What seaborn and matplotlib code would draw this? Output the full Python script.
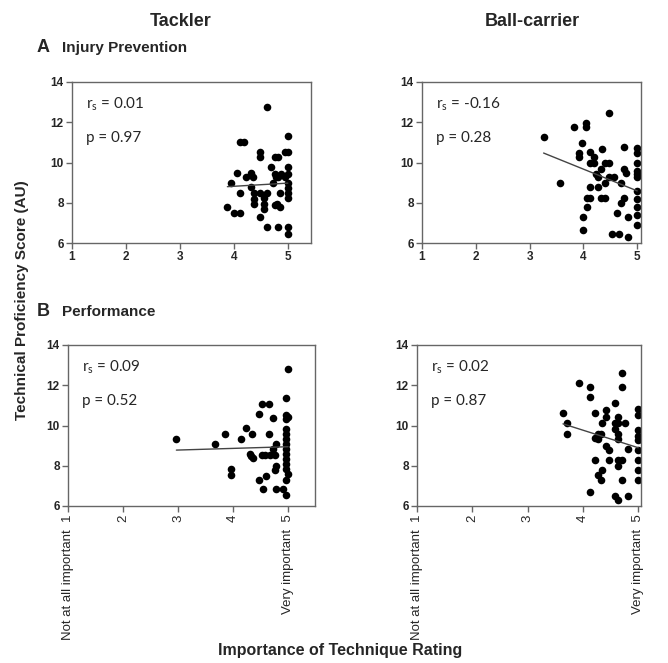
import matplotlib
matplotlib.use("Agg")
import matplotlib.pyplot as plt
import numpy as np
import seaborn as sns

# --- data ---
tackler_inj_x = [4.62, 5.0, 4.12, 4.18, 4.49, 4.49, 4.76, 4.82, 4.94, 5.0, 4.69, 5.0, 4.06, 4.31,
                 4.23, 4.36, 4.76, 4.82, 4.88, 4.94, 5.0, 4.79, 5.0, 3.94, 4.31, 4.73, 5.0, 5.0,
                 5.0, 4.12, 4.37, 4.49, 4.62, 4.86, 4.37, 4.55, 4.37, 4.55, 4.76, 4.86, 4.80, 3.88,
                 4.55, 4.0, 4.12, 4.49, 4.62, 4.81, 5.0, 5.0]
tackler_inj_y = [12.77, 11.3, 11.0, 11.0, 10.5, 10.25, 10.25, 10.25, 10.5, 10.5, 9.76, 9.76, 9.5, 9.5,
                 9.3, 9.26, 9.45, 9.3, 9.45, 9.3, 9.45, 9.26, 9.0, 8.96, 8.76, 8.96, 8.75, 8.5,
                 8.25, 8.46, 8.46, 8.46, 8.46, 8.46, 8.2, 8.24, 7.96, 7.96, 7.9, 7.8, 7.95, 7.8,
                 7.7, 7.47, 7.47, 7.3, 6.8, 6.8, 6.8, 6.44]

carrier_inj_x = [4.48, 3.26, 3.83, 4.05, 4.05, 3.98, 3.91, 3.91, 4.12, 4.2, 4.12, 4.2, 4.34, 4.76,
                 4.4, 4.48, 4.33, 4.76, 4.8, 4.24, 4.27, 4.48, 4.57, 4.41, 4.70, 3.56, 4.12, 4.27,
                 4.06, 4.12, 4.33, 4.41, 4.76, 4.06, 4.70, 4.62, 4.82, 3.99, 3.99, 4.54, 4.67, 4.82,
                 5.0, 5.0, 5.0, 5.0, 5.0, 5.0, 5.0, 5.0, 5.0, 5.0, 5.0]
carrier_inj_y = [12.47, 11.28, 11.78, 11.98, 11.78, 10.98, 10.48, 10.25, 10.5, 10.25, 10.0, 10.0, 10.65, 10.78,
                 10.0, 10.0, 9.7, 9.7, 9.5, 9.45, 9.26, 9.26, 9.26, 8.96, 8.96, 8.96, 8.76, 8.76,
                 8.26, 8.26, 8.26, 8.26, 8.26, 7.77, 7.97, 7.47, 7.3, 7.3, 6.67, 6.47, 6.47, 6.3,
                 10.7, 10.45, 10.0, 9.6, 9.45, 9.3, 8.6, 8.2, 7.8, 7.4, 6.9]

tackler_perf_x = [2.97, 3.67, 3.86, 4.15, 4.23, 4.35, 3.96, 3.96, 4.47, 4.53, 4.65, 4.72, 4.65, 4.97,
                  4.97, 5.0, 4.97, 4.96, 4.96, 4.96, 4.96, 4.96, 4.96, 4.96, 4.96, 4.96, 4.79, 4.73,
                  4.52, 4.58, 4.67, 4.76, 4.33, 4.36, 4.30, 4.78, 4.76, 4.6, 4.47, 4.55, 4.78, 4.91,
                  4.96, 5.0, 4.96, 5.0]
tackler_perf_y = [9.35, 9.07, 9.6, 9.35, 9.88, 9.6, 7.86, 7.53, 10.59, 11.08, 11.08, 10.37, 9.6, 11.38,
                  10.5, 10.4, 10.3, 9.85, 9.6, 9.35, 9.1, 8.85, 8.6, 8.35, 8.1, 7.86, 9.1, 8.85,
                  8.52, 8.52, 8.52, 8.52, 8.5, 8.4, 8.6, 8.0, 7.8, 7.49, 7.29, 6.83, 6.83, 6.83,
                  6.54, 12.8, 7.3, 7.6]

carrier_perf_x = [4.71, 4.71, 3.92, 4.13, 4.13, 3.64, 3.72, 3.72, 4.21, 4.42, 4.42, 4.58, 4.35, 4.64,
                  4.58, 4.64, 4.76, 4.58, 4.64, 4.64, 4.27, 4.33, 4.21, 4.27, 4.42, 4.48, 4.82, 4.21,
                  4.48, 4.64, 4.70, 4.64, 4.35, 4.27, 4.33, 4.70, 4.13, 4.58, 4.64, 4.82,
                  5.0, 5.0, 5.0, 5.0, 5.0, 5.0, 5.0, 5.0, 5.0]
carrier_perf_y = [12.6, 11.9, 12.1, 11.9, 11.4, 10.6, 10.1, 9.56, 10.6, 10.75, 10.4, 11.1, 10.1, 10.4,
                  10.1, 10.1, 10.1, 9.85, 9.6, 9.35, 9.6, 9.6, 9.4, 9.35, 9.0, 8.8, 8.85, 8.3,
                  8.3, 8.3, 8.3, 8.0, 7.8, 7.53, 7.3, 7.3, 6.7, 6.5, 6.3, 6.5,
                  10.8, 10.5, 9.8, 9.5, 9.3, 8.8, 8.3, 7.8, 7.3]

r_labels = ["0.01", "-0.16", "0.09", "0.02"]
p_labels = ["0.97", "0.28", "0.52", "0.87"]
col_titles = ["Tackler", "Ball-carrier"]
row_titles = ["Injury Prevention", "Performance"]
row_letters = ["A", "B"]
xticks = [1, 2, 3, 4, 5]
yticks = [6, 8, 10, 12, 14]
perf_xticklabels = ["Not at all important  1", "2", "3", "4", "Very important  5"]

sns.set_style("ticks")
plt.rcParams["font.family"] = ["Liberation Sans", "DejaVu Sans"]

W, H = 668, 663
fig = plt.figure(figsize=(W / 100, H / 100), dpi=100)


def px_rect(x0, x1, ytop, ybot):
    return [x0 / W, 1 - ybot / H, (x1 - x0) / W, (ybot - ytop) / H]


# panel boxes in pixels: (left, right, top, bottom, xmax)
boxes = [
    (72, 311, 82, 243, 5.43),
    (422, 641, 82, 243, 5.07),
    (68, 315, 345, 506, 5.49),
    (417, 641, 345, 506, 5.05),
]
series = [
    (tackler_inj_x, tackler_inj_y),
    (carrier_inj_x, carrier_inj_y),
    (tackler_perf_x, tackler_perf_y),
    (carrier_perf_x, carrier_perf_y),
]

for i, ((x0, x1, yt, yb, xmax), (xs, ys)) in enumerate(zip(boxes, series)):
    ax = fig.add_axes(px_rect(x0, x1, yt, yb))
    sns.regplot(x=np.array(xs), y=np.array(ys), ax=ax, ci=None, truncate=True,
                scatter_kws=dict(s=30, color="black", linewidths=0, alpha=1),
                line_kws=dict(color="#444444", linewidth=1.0))
    ax.set_xlim(1, xmax)
    ax.set_ylim(6, 14)
    ax.set_xticks(xticks)
    ax.set_yticks(yticks)
    ax.set_yticklabels([str(v) for v in yticks], fontsize=8.5, fontweight="bold")
    if i < 2:
        ax.set_xticklabels([str(v) for v in xticks], fontsize=8.5, fontweight="bold")
    else:
        ax.set_xticklabels(perf_xticklabels, rotation=90, fontsize=9.5)
    for s in ax.spines.values():
        s.set_visible(True)
        s.set_color("#666666")
        s.set_linewidth(1.0)
    ax.tick_params(length=4, width=1, color="#666666", pad=2)
    ax.set_xlabel("")
    ax.set_ylabel("")
    ax.annotate(r"r$_\mathregular{s}$ = " + r_labels[i], xy=(0, 1), xycoords="axes fraction",
                xytext=(10, -19), textcoords="offset points", fontsize=11,
                family=["Lato", "DejaVu Sans"])
    ax.annotate("p = " + p_labels[i], xy=(0, 1), xycoords="axes fraction",
                xytext=(10, -43), textcoords="offset points", fontsize=11,
                family=["Lato", "DejaVu Sans"])

# column / row headings
fig.text(181 / W, 1 - 22 / H, col_titles[0], ha="center", va="center", fontsize=13, fontweight="bold")
fig.text(532 / W, 1 - 22 / H, col_titles[1], ha="center", va="center", fontsize=13, fontweight="bold")
for letter, title, y in zip(row_letters, row_titles, [48, 312]):
    fig.text(37 / W, 1 - y / H, letter, ha="left", va="center", fontsize=13, fontweight="bold")
    fig.text(62 / W, 1 - y / H, title, ha="left", va="center", fontsize=11, fontweight="bold")

fig.text(22 / W, 1 - 300 / H, "Technical Proficiency Score (AU)", rotation=90,
         ha="center", va="center", fontsize=11, fontweight="bold")
fig.text(340 / W, 1 - 650 / H, "Importance of Technique Rating",
         ha="center", va="center", fontsize=11.5, fontweight="bold")

fig.savefig("out.png", dpi=100, facecolor="white")
